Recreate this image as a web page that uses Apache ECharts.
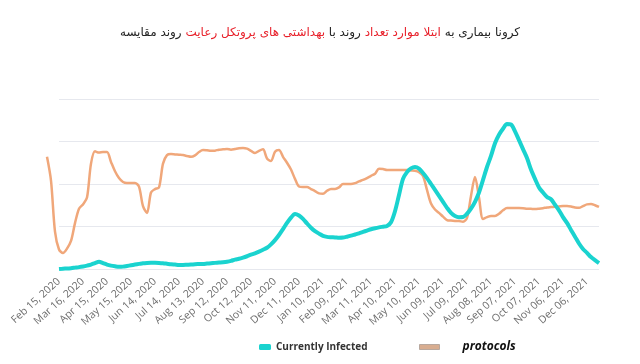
<!DOCTYPE html>
<html><head><meta charset="utf-8">
<script src="https://cdn.jsdelivr.net/npm/echarts@6/dist/echarts.min.js"></script>
<style>html,body{margin:0;padding:0;background:#fff}#c{width:640px;height:364px}</style>
</head><body><div id="c"></div>
<script>
// Title words (logical order), red flag per word
var titleWords = ['مقایسه','روند','رعایت','پروتکل','های','بهداشتی','با','روند','تعداد','موارد','ابتلا','به','بیماری','کرونا'];
var titleRed   = [0,0,1,1,1,1,0,0,1,1,1,0,0,0];

// Currently Infected: every 5 days from Feb 15, 2020
var infectedStart = '2020-02-15';
var infected = [0,0.2,0.3,0.5,0.8,1.1,1.5,2.0,2.6,3.5,4.3,3.5,2.6,2.0,1.6,1.3,1.4,1.8,2.2,2.6,
3.0,3.4,3.6,3.7,3.7,3.6,3.4,3.1,2.8,2.6,2.4,2.4,2.5,2.6,2.8,2.9,3.0,3.2,3.4,3.6,
3.8,4.0,4.3,4.8,5.5,6.0,6.7,7.5,8.4,9.2,10.2,11.3,12.5,14.5,17.0,20.0,23.5,27.1,30.2,32.4,
31.5,29.5,26.8,24.3,22.3,20.8,19.5,18.9,18.7,18.6,18.4,18.5,19.0,19.6,20.3,21.0,21.8,22.6,23.4,24.0,
24.5,24.9,25.3,27.5,34.0,43.5,53.0,57.0,59.2,60.0,59.0,56.5,53.5,50.0,46.5,43.0,39.5,36.0,33.0,31.2,
30.5,30.6,32.5,35.5,39.5,45.0,52.4,60.0,66.5,74.0,79.0,82.5,85.3,85.0,81.0,75.8,70.5,65.3,58.5,53.0,
48.0,45.0,42.4,41.0,37.8,34.5,30.5,27.1,23.0,19.0,15.0,11.8,9.5,7.0,5.2,3.5];

// protocols: every 5 days from Jan 31, 2020
var protocolsStart = '2020-01-31';
var protocols = [66,52,22,11.5,9.4,12,16.5,27,35.5,38,42,62,69.2,68.5,68.8,68.8,63,57.5,53.5,51.2,
50.6,50.6,50.6,48.5,37,33,45,47,48,62,67,67.6,67.4,67.2,67,66.5,66,66.8,68.8,70,
69.8,69.5,69.6,70.2,70.4,70.6,70.2,70.6,71,71.2,70.8,69.5,68.2,69.5,70.4,65,63.5,69,70,66,
62.5,58.5,53,48.5,48.2,48.2,47,45.8,44.5,44.3,46,47.1,47.1,48,50,50,50,50.5,51.5,52.4,
53.5,54.8,56,59,58.8,58.2,58.2,58.2,58.2,58.2,58.2,58,57.8,57,54.7,46.5,38.5,35,33,30.8,
28.8,28.5,28.3,28.2,27.8,30,43,54.1,42,29.4,30.5,31.2,31.2,32.5,34.5,35.9,35.9,35.9,35.9,35.8,
35.5,35.4,35.3,35.5,35.8,36.2,36.4,36.6,36.8,37,37.1,36.8,36.2,36,37,38,38.2,37.5,36.5];

var months = ['Jan','Feb','Mar','Apr','May','Jun','Jul','Aug','Sep','Oct','Nov','Dec'];
function dateList(start, n){
  var d0 = new Date(start + 'T00:00:00Z'), out = [];
  for (var i = 0; i < n; i++){
    var d = new Date(d0.getTime() + i*5*86400000);
    var dd = d.getUTCDate();
    out.push(months[d.getUTCMonth()] + ' ' + (dd<10?'0'+dd:dd) + ', ' + d.getUTCFullYear());
  }
  return out;
}
var infectedDates = dateList(infectedStart, infected.length);
var protocolDates = dateList(protocolsStart, protocols.length);

// build rich title
var tf = {fontSize:12, fontWeight:'normal', fontFamily:'DejaVu Sans'};
var rich = {
  b:Object.assign({color:'#222'}, tf),
  r:Object.assign({color:'#e8202a'}, tf),
  s:Object.assign({}, tf)
};
var titleText = titleWords.map(function(w,i){return '{'+(titleRed[i]?'r':'b')+'|'+w+'}';}).join('{s| }');

var chart = echarts.init(document.getElementById('c'));
chart.setOption({
  animation:false,
  title:{text:titleText, left:'center', top:22, textStyle:{fontWeight:'normal', fontSize:12, rich:rich}},
  legend:[
    {data:[{name:'Currently Infected', icon:'roundRect'}], left:259, top:342, padding:0, itemWidth:12, itemHeight:6,
     textStyle:{fontFamily:'Open Sans', fontWeight:'bold', fontSize:10, color:'#333'}},
    {data:[{name:'protocols', icon:'rect', itemStyle:{color:'#d8ad90', borderColor:'#b8a89e', borderWidth:1}}], left:419, top:341, padding:0, itemWidth:20, itemHeight:5,
     textStyle:{fontFamily:'Open Sans', fontWeight:'bold', fontStyle:'italic', fontSize:12, color:'#111', padding:[0,0,0,18]}}
  ],
  grid:[
    {left:59, right:41, top:99, bottom:95},
    {left:47, right:41, top:99, bottom:95}
  ],
  xAxis:[
    {type:'category', gridIndex:0, data:infectedDates, boundaryGap:false,
     axisLine:{show:false}, axisTick:{show:false},
     axisLabel:{interval:5, rotate:42, fontSize:10.5, color:'#6e6e6e', fontFamily:'Open Sans', margin:11}},
    {type:'category', gridIndex:1, data:protocolDates, boundaryGap:false, show:false}
  ],
  yAxis:[
    {type:'value', gridIndex:0, min:0, max:100, interval:25, axisLabel:{show:false},
     axisLine:{show:false}, axisTick:{show:false}, splitLine:{lineStyle:{color:'#e6e8ee'}}},
    {type:'value', gridIndex:1, min:0, max:100, interval:25, show:false, splitLine:{show:false}}
  ],
  series:[
    {name:'Currently Infected', type:'line', xAxisIndex:0, yAxisIndex:0, data:infected, smooth:0.3,
     showSymbol:false, itemStyle:{color:'#1ad3cf'}, lineStyle:{width:4, color:'#1ad3cf'}, z:3},
    {name:'protocols', type:'line', xAxisIndex:1, yAxisIndex:1, data:protocols, smooth:0.3,
     showSymbol:false, itemStyle:{color:'#f0a77a'}, lineStyle:{width:2.5, color:'#f0a77a'}, z:2}
  ]
});
</script></body></html>
